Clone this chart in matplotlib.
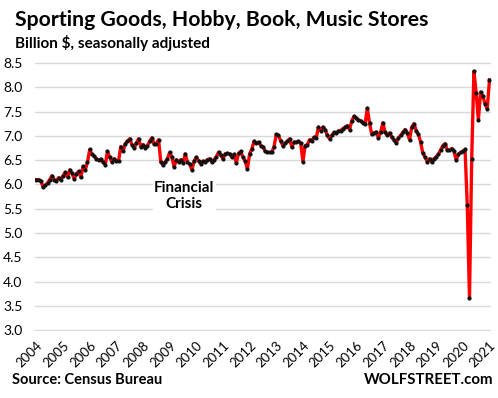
import numpy as np
import matplotlib.pyplot as plt

# monthly sales, billion $, Jan 2004 .. Jan 2021
y2004 = [6.10, 6.10, 6.07, 5.95, 5.98, 6.03, 6.10, 6.18, 6.10, 6.08, 6.14, 6.10]
y2005 = [6.18, 6.25, 6.15, 6.30, 6.23, 6.12, 6.22, 6.27, 6.15, 6.37, 6.30, 6.46]
y2006 = [6.72, 6.62, 6.58, 6.53, 6.50, 6.52, 6.46, 6.41, 6.68, 6.56, 6.46, 6.53]
y2007 = [6.49, 6.49, 6.78, 6.68, 6.84, 6.89, 6.94, 6.82, 6.75, 6.85, 6.94, 6.78]
y2008 = [6.82, 6.75, 6.80, 6.89, 6.96, 6.84, 6.84, 6.92, 6.46, 6.41, 6.46, 6.53]
y2009 = [6.66, 6.56, 6.36, 6.51, 6.46, 6.51, 6.44, 6.63, 6.46, 6.42, 6.30, 6.48]
y2010 = [6.56, 6.49, 6.42, 6.48, 6.46, 6.51, 6.53, 6.46, 6.51, 6.57, 6.66, 6.60]
y2011 = [6.53, 6.63, 6.64, 6.63, 6.56, 6.62, 6.44, 6.64, 6.68, 6.56, 6.48, 6.32]
y2012 = [6.63, 6.73, 6.89, 6.85, 6.87, 6.80, 6.78, 6.68, 6.66, 6.66, 6.66, 6.78]
y2013 = [7.03, 7.01, 6.89, 6.80, 6.85, 6.89, 6.94, 6.77, 6.87, 6.87, 6.89, 6.85]
y2014 = [6.47, 6.80, 6.82, 6.92, 6.90, 6.97, 6.96, 7.18, 7.11, 7.18, 7.13, 7.01]
y2015 = [6.94, 7.01, 7.07, 7.06, 7.10, 7.11, 7.15, 7.18, 7.21, 7.13, 7.31, 7.40]
y2016 = [7.37, 7.33, 7.31, 7.27, 7.25, 7.57, 7.26, 7.03, 7.06, 7.08, 6.96, 7.08]
y2017 = [7.27, 7.07, 7.01, 7.06, 6.97, 6.92, 6.85, 6.96, 7.01, 7.07, 7.13, 7.06]
y2018 = [6.92, 7.18, 7.25, 7.11, 7.03, 6.87, 6.64, 6.56, 6.47, 6.53, 6.46, 6.53]
y2019 = [6.57, 6.62, 6.71, 6.80, 6.84, 6.71, 6.70, 6.74, 6.69, 6.50, 6.62, 6.66]
y2020 = [6.68, 6.72, 5.57, 3.67, 6.53, 8.33, 7.88, 7.33, 7.90, 7.82, 7.66, 7.56]
y2021 = [8.15]

sales = (y2004 + y2005 + y2006 + y2007 + y2008 + y2009 + y2010 + y2011 + y2012
         + y2013 + y2014 + y2015 + y2016 + y2017 + y2018 + y2019 + y2020 + y2021)
years = list(range(2004, 2022))
y_ticks = [3.0, 3.5, 4.0, 4.5, 5.0, 5.5, 6.0, 6.5, 7.0, 7.5, 8.0, 8.5]

plt.rcParams['font.family'] = ['Lato', 'DejaVu Sans']

fig = plt.figure(figsize=(4.98, 3.98), dpi=100)
ax = fig.add_axes([0.070, 0.169, 0.916, 0.674])

months = np.arange(len(sales))
ax.plot(months, sales, color='#ff0000', linewidth=2.4, zorder=3)
ax.plot(months, sales, linestyle='none', marker='o', markersize=2.0,
        color='#111111', zorder=4)

ax.set_xlim(-0.7, len(sales) - 0.3)
ax.set_ylim(2.99, 8.51)
ax.set_yticks(y_ticks)
ax.set_yticklabels([f'{v:.1f}' for v in y_ticks], fontsize=10)
ax.yaxis.grid(True, color='#d9d9d9', linewidth=1)
ax.set_axisbelow(True)

ax.set_xticks([12 * k for k in range(len(years))])
ax.set_xticklabels([str(y) for y in years], rotation=45, ha='right',
                   rotation_mode='anchor', fontsize=9.5)
ax.tick_params(axis='both', length=0)
ax.tick_params(axis='y', pad=9)
ax.tick_params(axis='x', pad=6)
for s in ax.spines.values():
    s.set_visible(False)

ax.text(66.5, 5.77, 'Financial\nCrisis', ha='center', va='center',
        fontsize=11, fontweight='bold', linespacing=1.2,
        bbox=dict(facecolor='white', edgecolor='none', pad=1), zorder=5)

fig.text(0.030, 0.975, 'Sporting Goods, Hobby, Book, Music Stores',
         fontsize=15.3, fontweight='bold', va='top')
fig.text(0.030, 0.913, 'Billion $, seasonally adjusted',
         fontsize=11, fontweight='bold', va='top')
fig.text(0.024, 0.045, 'Source: Census Bureau', fontsize=10.5,
         fontweight='bold', va='center')
fig.text(0.990, 0.045, 'WOLFSTREET.com', fontsize=10.8,
         fontweight='bold', va='center', ha='right')

fig.savefig('out.png', dpi=100)
